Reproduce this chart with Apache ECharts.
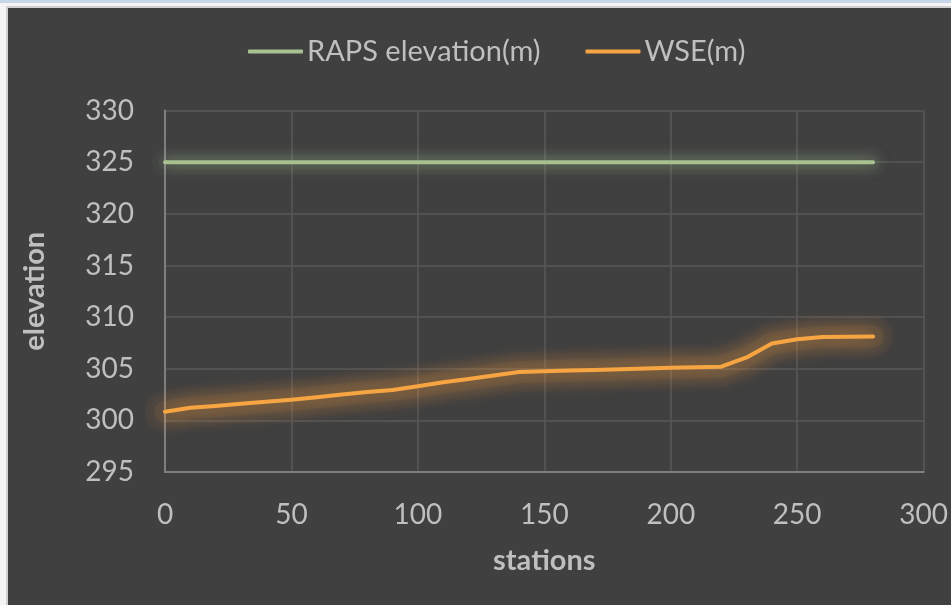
<!DOCTYPE html>
<html>
<head>
<meta charset="utf-8">
<script src="https://cdn.jsdelivr.net/npm/echarts@6/dist/echarts.min.js"></script>
<style>
html,body{margin:0;padding:0;background:#ffffff;}
#chart{width:951px;height:605px;}
</style>
</head>
<body>
<div id="chart"></div>
<script>
const stations = [0,10,20,30,40,50,60,70,80,90,100,110,120,130,140,150,160,170,180,190,200,210,220,230,240,250,260,270,280];
const rapsElevation = [325,325,325,325,325,325,325,325,325,325,325,325,325,325,325,325,325,325,325,325,325,325,325,325,325,325,325,325,325];
const wse = [300.84,301.23,301.4,301.6,301.8,302.0,302.25,302.5,302.75,302.95,303.3,303.7,304.0,304.35,304.68,304.75,304.82,304.88,304.95,305.03,305.1,305.15,305.2,306.1,307.45,307.85,308.08,308.1,308.12];
const xTicks = {min:0, max:300, interval:50};
const yTicks = {min:295, max:330, interval:5};
const seriesNames = ['RAPS elevation(m)','WSE(m)'];

const pair = arr => stations.map((s,i)=>[s,arr[i]]);
const chart = echarts.init(document.getElementById('chart'), null, {renderer:'canvas'});
const txt = '#bfbfbf';
const font = 'Lato, "Open Sans", sans-serif';
const glow = (name, arr, rgb, w, a, blur, k) => ({
  name:name+' glow'+k, type:'line', data:pair(arr), showSymbol:false, symbol:'none', silent:true, z:1,
  lineStyle:{color:'rgba('+rgb+','+a+')', width:w, cap:'round', join:'round', shadowBlur:blur, shadowColor:'rgba('+rgb+',1)'}
});
chart.setOption({
  backgroundColor:'#404040',
  animation:false,
  graphic:[
    {type:'rect', shape:{x:0,y:0,width:951,height:3}, style:{fill:'#c8d6e9'}, z:100},
    {type:'rect', shape:{x:0,y:3,width:951,height:3}, style:{fill:'#f4f4f4'}, z:100},
    {type:'rect', shape:{x:0,y:6,width:951,height:2}, style:{fill:'#d0d0d0'}, z:100},
    {type:'rect', shape:{x:0,y:3,width:6,height:602}, style:{fill:'#f4f4f4'}, z:100},
    {type:'rect', shape:{x:6,y:6,width:2,height:599}, style:{fill:'#d0d0d0'}, z:100}
  ],
  legend:{
    top:37, left:248, padding:0,
    itemWidth:55, itemHeight:4, itemGap:45,
    textStyle:{color:txt, fontSize:29, fontFamily:font, padding:[0,0,0,-1]},
    data:seriesNames.map(n=>({name:n, icon:'roundRect'}))
  },
  grid:{left:165, right:26, top:110.6, bottom:133, containLabel:false},
  xAxis:{
    type:'value', min:xTicks.min, max:xTicks.max, interval:xTicks.interval,
    name:'stations', nameLocation:'middle', nameGap:74,
    nameTextStyle:{color:txt, fontSize:29, fontWeight:'bold', fontFamily:font},
    axisLine:{show:true, lineStyle:{color:'#7f7f7f', width:2}},
    axisTick:{show:false},
    axisLabel:{color:txt, fontSize:28, fontFamily:font, margin:29},
    splitLine:{show:true, lineStyle:{color:'#595959', width:1.5}}
  },
  yAxis:{
    type:'value', min:yTicks.min, max:yTicks.max, interval:yTicks.interval,
    name:'elevation', nameLocation:'middle', nameGap:116, nameRotate:90,
    nameTextStyle:{color:txt, fontSize:29, fontWeight:'bold', fontFamily:font},
    axisLine:{show:true, lineStyle:{color:'#7f7f7f', width:2}},
    axisTick:{show:false},
    axisLabel:{color:txt, fontSize:28, fontFamily:font, margin:31},
    splitLine:{show:true, lineStyle:{color:'#595959', width:1.5}}
  },
  series:[
    glow(seriesNames[0], rapsElevation, '169,193,145', 26, 0.03, 12, 1),
    glow(seriesNames[0], rapsElevation, '169,193,145', 14, 0.04, 10, 2),
    glow(seriesNames[1], wse, '247,165,66', 40, 0.04, 16, 1),
    glow(seriesNames[1], wse, '247,165,66', 22, 0.06, 12, 2),
    {name:seriesNames[0], type:'line', data:pair(rapsElevation), showSymbol:false, symbol:'none', z:3,
     itemStyle:{color:'#a9c191'},
     lineStyle:{color:'#a9c191', width:4, cap:'round', shadowBlur:16, shadowColor:'rgba(169,193,145,0.6)'}},
    {name:seriesNames[1], type:'line', data:pair(wse), showSymbol:false, symbol:'none', z:3,
     itemStyle:{color:'#f7a542'},
     lineStyle:{color:'#f7a542', width:4, cap:'round', join:'round', shadowBlur:20, shadowColor:'rgba(247,165,66,1)'}}
  ]
});
</script>
</body>
</html>
